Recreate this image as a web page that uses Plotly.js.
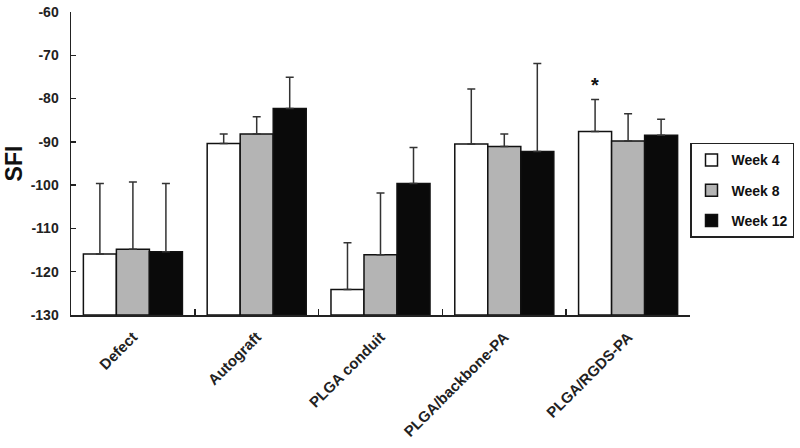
<!DOCTYPE html>
<html><head><meta charset="utf-8">
<script src="https://cdn.plot.ly/plotly-3.0.1.min.js"></script>
<style>html,body{margin:0;padding:0;background:#fff}#chart{width:800px;height:448px}</style>
</head><body><div id="chart"></div>
<script>
const categories = ["Defect", "Autograft", "PLGA conduit", "PLGA/backbone-PA", "PLGA/RGDS-PA"];
const seriesNames = ["Week 4", "Week 8", "Week 12"];
const week4 = [-115.9, -90.4, -124.1, -90.5, -87.6];
const week8 = [-114.8, -88.2, -116.1, -91.1, -89.8];
const week12 = [-115.4, -82.3, -99.6, -92.2, -88.5];
const err4 = [16.3, 2.2, 10.8, 12.7, 7.4];
const err8 = [15.5, 4.0, 14.3, 2.9, 6.3];
const err12 = [15.8, 7.2, 8.3, 20.3, 3.7];
const yTicks = [-130, -120, -110, -100, -90, -80, -70, -60];
const yTickText = ["-130", "-120", "-110", "-100", "-90", "-80", "-70", "-60"];

const baseVal = -130;
const colors = ["#ffffff", "#b4b4b4", "#0a0a0a"];
const vals = [week4, week8, week12];
const errs = [err4, err8, err12];
const FONT = "Liberation Sans, Arial, sans-serif";

const traces = vals.map((v, i) => ({
  type: "bar",
  name: seriesNames[i],
  legendgroup: "g" + i,
  x: categories,
  y: v.map(d => d - baseVal),
  base: baseVal,
  marker: {color: colors[i], line: {color: "#111", width: 1.5}},
  error_y: {type: "data", symmetric: false, array: errs[i], arrayminus: errs[i].map(() => 0),
            color: "#333", thickness: 1.5, width: 4},
  hoverinfo: "skip"
}));

const layout = {
  width: 800, height: 448,
  margin: {l: 71, r: 110, t: 12, b: 133, autoexpand: false},
  paper_bgcolor: "#fff", plot_bgcolor: "#fff",
  barmode: "group", bargap: 0.2, bargroupgap: 0,
  font: {family: FONT, color: "#222"},
  xaxis: {
    type: "category", showgrid: false, zeroline: false,
    showline: true, linecolor: "#222", linewidth: 1.5,
    ticks: "inside", tickson: "boundaries", ticklen: 6, tickcolor: "#222", tickwidth: 1.5,
    tickangle: -45, ticklabelstandoff: 6,
    tickfont: {size: 15, family: FONT, weight: "bold", color: "#222"}
  },
  yaxis: {
    range: [-130, -60], tickvals: yTicks, ticktext: yTickText, showgrid: false, zeroline: false,
    showline: true, linecolor: "#222", linewidth: 1.5,
    ticks: "inside", ticklen: 5, tickcolor: "#222", tickwidth: 1.5, ticklabelstandoff: 8,
    tickfont: {size: 14, family: FONT, weight: "bold", color: "#222"},
    title: {text: "SFI", font: {size: 23, family: FONT, weight: "bold", color: "#111"}, standoff: 1}
  },
  legend: {
    x: 1.0, y: 0.568, xanchor: "left", yanchor: "top",
    bordercolor: "#222", borderwidth: 1.5, bgcolor: "#fff",
    font: {size: 14, family: FONT, weight: "bold", color: "#111"},
    traceorder: "grouped", tracegroupgap: 9, itemwidth: 30
  },
  annotations: [{
    x: categories[4], y: week4[4] + err4[4], xref: "x", yref: "y",
    text: "*", showarrow: false, xshift: -33, yshift: 14,
    font: {size: 20, family: FONT, weight: "bold", color: "#111"}
  }],
  showlegend: true
};

Plotly.newPlot("chart", traces, layout, {staticPlot: true, displayModeBar: false});
</script></body></html>
